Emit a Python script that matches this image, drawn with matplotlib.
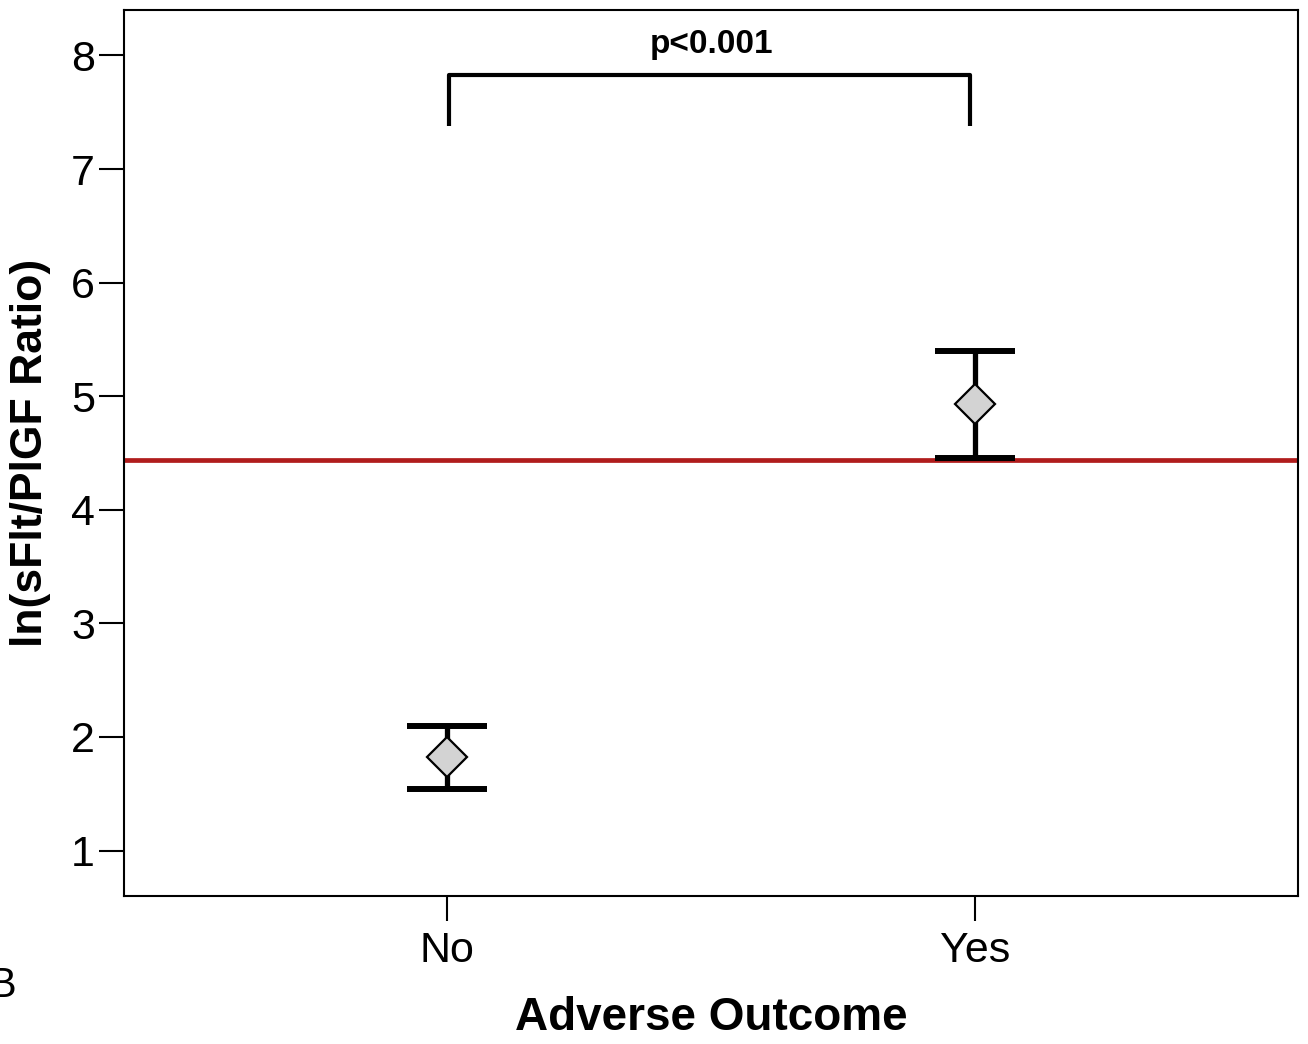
import matplotlib
matplotlib.use("Agg")
import matplotlib.pyplot as plt

plt.rcParams['font.family'] = ['Liberation Sans', 'DejaVu Sans']

# group means and 95% CI bounds of ln(sFlt/PlGF)
groups = ["No", "Yes"]
means = [1.82, 4.93]
upper = [2.10, 5.40]
lower = [1.545, 4.455]
cutoff = 4.44
p_text = "p<0.001"

fig = plt.figure(figsize=(13.08, 10.44), dpi=100)
ax = fig.add_axes([0.0948, 0.1418, 0.8976, 0.8486])

pos = [1, 2]
yerr = [[m - lo for m, lo in zip(means, lower)],
        [hi - m for m, hi in zip(means, upper)]]

ax.axhline(cutoff, color='#b01c1c', lw=3.4, zorder=1)
ax.errorbar(pos, means, yerr=yerr, fmt='none', ecolor='black',
            elinewidth=3.8, capsize=29, capthick=4.3, zorder=2)
ax.plot(pos, means, 'D', ms=20, mfc='#d3d3d3', mec='black', mew=1.6,
        zorder=3)

# significance bracket
bx0, bx1 = 1.005, 1.99
ax.plot([bx0, bx0, bx1, bx1], [7.38, 7.83, 7.83, 7.38], color='black',
        lw=3, solid_capstyle='butt', zorder=2)
ax.text(1.5, 8.1, p_text, ha='center', va='center', fontsize=24,
        fontweight='bold')

ax.set_xlim(0.39, 2.61)
ax.set_ylim(0.6, 8.4)
ax.set_xticks(pos)
ax.set_xticklabels(groups)
ax.set_yticks(range(1, 9))
ax.tick_params(axis='both', direction='out', length=18, width=1.5,
               labelsize=31)
ax.tick_params(axis='x', pad=7)
ax.tick_params(axis='y', pad=3)
for s in ax.spines.values():
    s.set_linewidth(1.5)

ax.set_xlabel("Adverse Outcome", fontsize=33, fontweight='bold', labelpad=18)
ax.set_ylabel("ln(sFlt/PlGF Ratio)", fontsize=32, fontweight='bold',
              labelpad=14)

fig.text(-0.009, 0.056, "B", fontsize=30, ha='left', va='center')

fig.savefig("out.png", dpi=100)
